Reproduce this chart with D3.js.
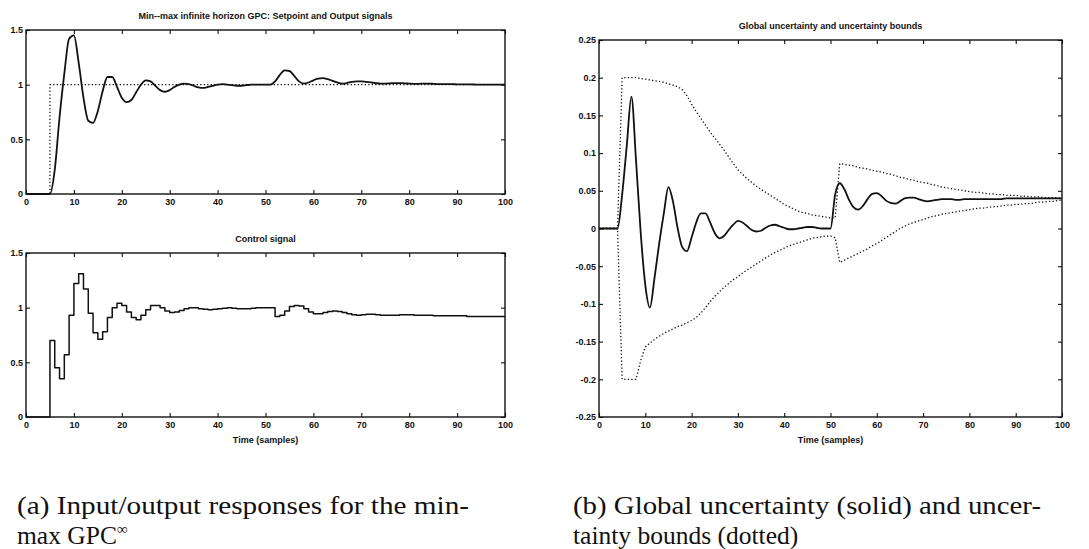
<!DOCTYPE html>
<html><head><meta charset="utf-8">
<script src="https://cdn.jsdelivr.net/npm/d3@7"></script>
<style>
body{margin:0;background:#fff;}
svg{display:block;}
.ax text{font-family:"Liberation Sans",Arial,sans-serif;font-size:9px;font-weight:bold;fill:#111;}
.ttl{font-family:"Liberation Sans",Arial,sans-serif;font-size:9px;font-weight:bold;fill:#111;}
.cap{font-family:"Liberation Serif","Times New Roman",serif;font-size:25.5px;fill:#111;}
</style></head><body>
<svg id="c" width="1089" height="549"></svg>
<script>
// ---------- DATA ----------
const time = d3.range(0, 101); // sample index 0..100
const xTicks = [0,10,20,30,40,50,60,70,80,90,100];

// (a, top) setpoint and output signals
const setpoint = [0,0,0,0,0,1,1,1,1,1, 1,1,1,1,1,1,1,1,1,1, 1,1,1,1,1,1,1,1,1,1, 1,1,1,1,1,1,1,1,1,1,
  1,1,1,1,1,1,1,1,1,1, 1,1,1,1,1,1,1,1,1,1, 1,1,1,1,1,1,1,1,1,1, 1,1,1,1,1,1,1,1,1,1,
  1,1,1,1,1,1,1,1,1,1, 1,1,1,1,1,1,1,1,1,1, 1];
const output = [0,0,0,0,0,0,0.22,0.7,1.1,1.42, 1.45,1.2,0.88,0.67,0.65,0.76,0.94,1.07,1.07,0.98,
  0.88,0.84,0.86,0.93,1.0,1.04,1.03,0.99,0.95,0.935, 0.95,0.98,1.0,1.01,1.005,0.99,0.975,0.97,0.98,0.99,
  1.0,1.005,1.0,0.995,0.99,0.99,0.995,1.0,1.0,1.0, 1.0,1.0,1.03,1.09,1.13,1.125,1.08,1.03,1.01,1.02,
  1.04,1.055,1.06,1.05,1.035,1.02,1.01,1.015,1.025,1.03, 1.03,1.025,1.02,1.015,1.01,1.01,1.012,1.015,1.015,1.012,
  1.01,1.008,1.008,1.01,1.01,1.008,1.005,1.005,1.005,1.005, 1.003,1.003,1.002,1.002,1.001,1.001,1.0,1.0,1.0,1.0, 1.0];
const yTicksA = [0,0.5,1,1.5];

// (a, bottom) control signal
const control = [0,0,0,0,0,0.7,0.45,0.35,0.57,0.93, 1.22,1.31,1.17,0.95,0.77,0.71,0.78,0.91,1.0,1.04,
  1.02,0.96,0.91,0.89,0.93,0.98,1.02,1.02,1.0,0.97, 0.955,0.96,0.975,0.99,1.0,1.0,0.99,0.985,0.98,0.985,
  0.99,0.995,1.0,0.995,0.99,0.99,0.99,0.995,1.0,1.0, 1.0,1.0,0.92,0.93,0.97,1.01,1.02,1.015,0.99,0.96,
  0.945,0.945,0.955,0.965,0.97,0.965,0.955,0.945,0.935,0.93, 0.935,0.94,0.94,0.935,0.93,0.93,0.93,0.93,0.935,0.935,
  0.935,0.93,0.93,0.93,0.93,0.925,0.925,0.925,0.925,0.925, 0.925,0.925,0.92,0.92,0.92,0.92,0.92,0.92,0.92,0.92, 0.92];

// (b) global uncertainty and bounds
const uncertainty = [0,0,0,0,0,0.045,0.11,0.175,0.09,-0.005, -0.075,-0.105,-0.065,-0.02,0.02,0.055,0.035,0.0,-0.025,-0.03,
  -0.012,0.008,0.02,0.02,0.008,-0.006,-0.013,-0.01,-0.002,0.005, 0.01,0.008,0.003,-0.002,-0.004,-0.003,0.001,0.004,0.005,0.003,
  0.001,-0.001,-0.001,0.0,0.001,0.002,0.002,0.001,0.0,0.0, 0.0,0.045,0.06,0.052,0.038,0.028,0.025,0.03,0.039,0.046,
  0.047,0.043,0.037,0.034,0.033,0.036,0.04,0.041,0.041,0.039, 0.037,0.036,0.037,0.038,0.039,0.039,0.039,0.038,0.038,0.039,
  0.039,0.039,0.039,0.039,0.039,0.039,0.039,0.039,0.04,0.04, 0.04,0.04,0.04,0.04,0.04,0.04,0.04,0.04,0.04,0.04, 0.04];
const upperBound = [0,0,0,0,0,0.2,0.2,0.2,0.2,0.199, 0.198,0.197,0.196,0.195,0.194,0.192,0.19,0.188,0.184,0.176,
  0.165,0.155,0.146,0.137,0.128,0.12,0.112,0.104,0.095,0.086, 0.078,0.072,0.066,0.061,0.056,0.052,0.048,0.044,0.04,0.036,
  0.032,0.029,0.026,0.023,0.021,0.02,0.018,0.017,0.016,0.015, 0.014,0.014,0.086,0.085,0.084,0.083,0.081,0.08,0.079,0.077,
  0.076,0.075,0.073,0.072,0.07,0.068,0.067,0.065,0.064,0.062, 0.061,0.06,0.058,0.057,0.055,0.054,0.053,0.052,0.051,0.05,
  0.049,0.048,0.048,0.047,0.046,0.046,0.045,0.045,0.044,0.044, 0.044,0.043,0.043,0.042,0.042,0.042,0.041,0.041,0.041,0.041, 0.04];
const lowerBound = [0,0,0,0,0,-0.2,-0.2,-0.2,-0.2,-0.175, -0.157,-0.152,-0.147,-0.143,-0.139,-0.136,-0.133,-0.13,-0.128,-0.125,
  -0.122,-0.118,-0.112,-0.105,-0.097,-0.09,-0.084,-0.078,-0.073,-0.068, -0.064,-0.059,-0.055,-0.051,-0.047,-0.043,-0.039,-0.035,-0.032,-0.029,
  -0.026,-0.023,-0.021,-0.019,-0.017,-0.015,-0.013,-0.012,-0.011,-0.01, -0.01,-0.012,-0.045,-0.042,-0.039,-0.036,-0.033,-0.03,-0.027,-0.023,
  -0.02,-0.016,-0.012,-0.008,-0.004,0.0,0.003,0.006,0.008,0.01, 0.012,0.014,0.016,0.017,0.019,0.02,0.021,0.022,0.023,0.024,
  0.025,0.026,0.027,0.027,0.028,0.029,0.029,0.03,0.031,0.031, 0.032,0.032,0.033,0.033,0.034,0.035,0.035,0.036,0.036,0.037, 0.038];
const yTicksB = [-0.25,-0.2,-0.15,-0.1,-0.05,0,0.05,0.1,0.15,0.2,0.25];
const yLabelsB = ["-0.25","-0.2","-0.15","-0.1","-0.05","0","0.05","0.1","0.15","0.2","0.25"];

const titleTop = "Min--max infinite horizon GPC: Setpoint and Output signals";
const titleBottom = "Control signal";
const titleRight = "Global uncertainty and uncertainty bounds";
const xLabel = "Time (samples)";
const captionA = ["(a) Input/output responses for the min-", "max GPC", "\u221E"];
const captionB = ["(b) Global uncertainty (solid) and uncer-", "tainty bounds (dotted)"];

// ---------- DRAW ----------
const svg = d3.select("#c");

function panel(o){
  const x = d3.scaleLinear().domain([0,100]).range([o.x0,o.x1]);
  const y = d3.scaleLinear().domain(o.yDomain).range([o.yBot,o.yTop]);
  const g = svg.append("g");
  const fmt = o.yFmt || (d=>String(d));
  const gb = g.append("g").attr("class","ax").attr("transform",`translate(0,${o.yBot})`)
    .call(d3.axisBottom(x).tickValues(xTicks).tickSize(-4).tickPadding(5).tickFormat(d=>String(d)));
  const gt = g.append("g").attr("class","ax").attr("transform",`translate(0,${o.yTop})`)
    .call(d3.axisTop(x).tickValues(xTicks).tickSize(-4).tickFormat(""));
  const gl = g.append("g").attr("class","ax").attr("transform",`translate(${o.x0},0)`)
    .call(d3.axisLeft(y).tickValues(o.yTicks).tickSize(-4).tickPadding(3).tickFormat(fmt));
  const gr = g.append("g").attr("class","ax").attr("transform",`translate(${o.x1},0)`)
    .call(d3.axisRight(y).tickValues(o.yTicks).tickSize(-4).tickFormat(""));
  [gb,gt,gl,gr].forEach(a=>{a.select(".domain").remove(); a.selectAll("line").attr("stroke","#111").attr("stroke-width",1.1);});
  g.append("rect").attr("x",o.x0).attr("y",o.yTop).attr("width",o.x1-o.x0).attr("height",o.yBot-o.yTop)
    .attr("fill","none").attr("stroke","#111").attr("stroke-width",1.4);
  g.append("text").attr("class","ttl").attr("x",(o.x0+o.x1)/2).attr("y",o.yTop-11)
    .attr("text-anchor","middle").text(o.title);
  if(o.xlabel){
    g.append("text").attr("class","ttl").attr("x",(o.x0+o.x1)/2).attr("y",o.yBot+26)
      .attr("text-anchor","middle").text(o.xlabel);
  }
  return {x,y,g};
}

function addLine(p, vals, curve, dotted, width){
  const line = d3.line().x((d,i)=>p.x(time[i])).y(d=>p.y(d)).curve(curve);
  p.g.append("path").datum(vals).attr("d",line).attr("fill","none")
    .attr("stroke","#111").attr("stroke-width",width)
    .attr("stroke-dasharray",dotted?"1.3,2.2":null)
    .attr("stroke-linejoin","round");
}

const pA = panel({x0:26,x1:505,yTop:30,yBot:194,yDomain:[0,1.5],yTicks:yTicksA,title:titleTop});
addLine(pA, setpoint, d3.curveStepAfter, true, 1.3);
addLine(pA, output, d3.curveMonotoneX, false, 1.8);

const pC = panel({x0:26,x1:505,yTop:253,yBot:417,yDomain:[0,1.5],yTicks:yTicksA,title:titleBottom,xlabel:xLabel});
addLine(pC, control, d3.curveStepAfter, false, 1.5);

const pB = panel({x0:599,x1:1062,yTop:40,yBot:417,yDomain:[-0.25,0.25],yTicks:yTicksB,
  yFmt:d=>yLabelsB[yTicksB.indexOf(d)],title:titleRight,xlabel:xLabel});
addLine(pB, upperBound, d3.curveLinear, true, 1.3);
addLine(pB, lowerBound, d3.curveLinear, true, 1.3);
addLine(pB, uncertainty, d3.curveMonotoneX, false, 1.8);

// captions
svg.append("text").attr("class","cap").attr("x",17).attr("y",514)
  .attr("textLength",452).attr("lengthAdjust","spacingAndGlyphs").text(captionA[0]);
const a2 = svg.append("text").attr("class","cap").attr("x",17).attr("y",544);
a2.append("tspan").text(captionA[1]);
a2.append("tspan").attr("font-size","15px").attr("dy",-10).text(captionA[2]);
svg.append("text").attr("class","cap").attr("x",573).attr("y",514)
  .attr("textLength",468).attr("lengthAdjust","spacingAndGlyphs").text(captionB[0]);
svg.append("text").attr("class","cap").attr("x",573).attr("y",544).text(captionB[1]);
</script>
</body></html>
